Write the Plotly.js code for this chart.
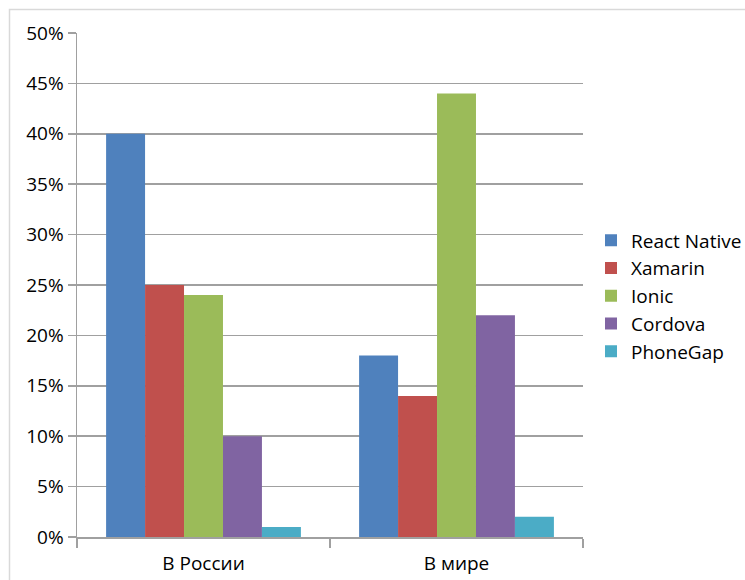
<!DOCTYPE html>
<html>
<head>
<meta charset="utf-8">
<script src="https://cdn.plot.ly/plotly-3.0.1.min.js"></script>
<style>
html,body{margin:0;padding:0;background:#fff;}
#chart{width:745px;height:580px;}
</style>
</head>
<body>
<div id="chart"></div>
<script>
const categories = ["В России", "В мире"];
const seriesNames = ["React Native", "Xamarin", "Ionic", "Cordova", "PhoneGap"];
const reactNative = [0.40, 0.18];
const xamarin = [0.25, 0.14];
const ionic = [0.24, 0.44];
const cordova = [0.10, 0.22];
const phoneGap = [0.01, 0.02];
const colors = ["#4F81BD", "#C0504D", "#9BBB59", "#8064A2", "#4BACC6"];
const yTickVals = [0, 0.05, 0.10, 0.15, 0.20, 0.25, 0.30, 0.35, 0.40, 0.45, 0.50];
const yTickText = ["0%", "5%", "10%", "15%", "20%", "25%", "30%", "35%", "40%", "45%", "50%"];

const seriesValues = [reactNative, xamarin, ionic, cordova, phoneGap];
const traces = seriesNames.map((name, i) => ({
  type: "bar",
  name: name,
  x: categories,
  y: seriesValues[i],
  marker: {color: colors[i], line: {width: 0}},
  hoverinfo: "none"
}));

const FONT = "Open Sans, Noto Sans, sans-serif";
const PL = 77, PR = 583, PT = 33, PB = 537;
const PW = PR - PL, PH = PB - PT;
const layout = {
  width: 745,
  height: 580,
  margin: {l: PL, r: 745 - PR, t: PT, b: 580 - PB, pad: 0, autoexpand: false},
  paper_bgcolor: "#ffffff",
  plot_bgcolor: "#ffffff",
  barmode: "group",
  bargap: 0.23,
  bargroupgap: 0,
  font: {family: FONT, size: 19, color: "#000000"},
  showlegend: true,
  legend: {
    x: (591 - PL) / PW, xanchor: "left",
    y: (PB - 296) / PH, yanchor: "middle",
    font: {family: FONT, size: 19, color: "#000"},
    tracegroupgap: 0,
    itemwidth: 30,
    bgcolor: "rgba(0,0,0,0)"
  },
  xaxis: {
    type: "category",
    showline: true,
    linecolor: "#a0a0a0",
    linewidth: 1.5,
    ticks: "outside",
    tickson: "boundaries",
    ticklen: 9,
    tickcolor: "#a0a0a0",
    tickwidth: 1.5,
    showgrid: false,
    ticklabelstandoff: 9,
    tickfont: {family: FONT, size: 19, color: "#000"},
    fixedrange: true
  },
  yaxis: {
    range: [0, 0.5],
    tickvals: yTickVals,
    ticktext: yTickText,
    showline: true,
    linecolor: "#a0a0a0",
    linewidth: 1.5,
    ticks: "outside",
    ticklen: 8,
    tickcolor: "#a0a0a0",
    tickwidth: 1.5,
    showgrid: true,
    gridcolor: "#a0a0a0",
    gridwidth: 1.5,
    zeroline: false,
    tickfont: {family: FONT, size: 19, color: "#000"},
    fixedrange: true
  },
  shapes: [{
    type: "rect",
    xref: "paper", yref: "paper",
    x0: (9.5 - PL) / PW, x1: (760 - PL) / PW,
    y0: (PB - 600) / PH, y1: (PB - 9.5) / PH,
    line: {color: "#d9d9d9", width: 1.5},
    fillcolor: "rgba(0,0,0,0)",
    layer: "below"
  }]
};

Plotly.newPlot("chart", traces, layout, {displayModeBar: false, staticPlot: true});
</script>
</body>
</html>
